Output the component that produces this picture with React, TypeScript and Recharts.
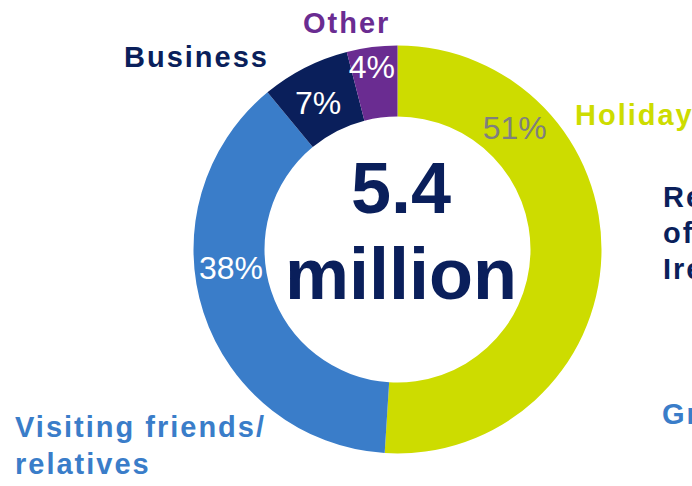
import React from "react";
import { PieChart, Pie, Cell } from "recharts";

const categories = ["Holiday", "Visiting friends/relatives", "Business", "Other"];
const shares = [51, 38, 7, 4];
const percentLabels = ["51%", "38%", "7%", "4%"];
const sliceColors = ["#CDDC00", "#3A7DC9", "#0A1F5B", "#6A2C91"];
const percentLabelColors = ["#7F7F7F", "#FFFFFF", "#FFFFFF", "#FFFFFF"];
const labelAngles = [46.1, 186.2, 118.4, 98];
const labelRadii = [169, 167.5, 167, 184];
const totalValue = "5.4";
const totalUnit = "million";

const data = categories.map((name, i) => ({ name, value: shares[i] }));

const RAD = Math.PI / 180;
const FONT = "'Liberation Sans', Arial, Helvetica, sans-serif";

const renderPercent = (props: any) => {
  const { cx, cy, index } = props;
  const a = labelAngles[index] * RAD;
  const r = labelRadii[index];
  const x = cx + r * Math.cos(a);
  const y = cy - r * Math.sin(a);
  return (
    <text
      x={x}
      y={y}
      textAnchor="middle"
      dominantBaseline="central"
      fill={percentLabelColors[index]}
      fontSize={32}
      fontFamily={FONT}
    >
      {percentLabels[index]}
    </text>
  );
};

const catStyle = { fontFamily: FONT, fontSize: 29, fontWeight: 700, letterSpacing: 2 } as const;

export default function App() {
  return (
    <div style={{ position: "absolute", left: 0, top: 0, width: 692, height: 486, background: "#fff", overflow: "hidden" }}>
      <PieChart width={692} height={486} margin={{ top: 0, right: 0, bottom: 0, left: 0 }}>
        <Pie
          data={data}
          dataKey="value"
          nameKey="name"
          cx={397.5}
          cy={249.5}
          innerRadius={133}
          outerRadius={204}
          startAngle={90}
          endAngle={-270}
          stroke="none"
          isAnimationActive={false}
          label={renderPercent}
          labelLine={false}
        >
          {data.map((d, i) => (
            <Cell key={d.name} fill={sliceColors[i]} />
          ))}
        </Pie>
      </PieChart>
      <svg width={692} height={486} style={{ position: "absolute", left: 0, top: 0, pointerEvents: "none" }}>
        <text x={401} y={213} textAnchor="middle" fill="#0A1F5B" fontFamily={FONT} fontSize={72} fontWeight={700}>
          {totalValue}
        </text>
        <text x={401} y={299} textAnchor="middle" fill="#0A1F5B" fontFamily={FONT} fontSize={72} fontWeight={700}>
          {totalUnit}
        </text>
        <text x={303} y={33} fill="#6A2C91" {...catStyle}>Other</text>
        <text x={124} y={67} fill="#0A1F5B" {...catStyle}>Business</text>
        <text x={575} y={125} fill="#CDDC00" {...catStyle}>Holiday</text>
        <text x={663} y={207} fill="#0A1F5B" {...catStyle}>Republic</text>
        <text x={663} y={243} fill="#0A1F5B" {...catStyle}>of</text>
        <text x={663} y={279} fill="#0A1F5B" {...catStyle}>Ireland</text>
        <text x={662} y={424} fill="#3A7DC9" {...catStyle}>Great Britain</text>
        <text x={15} y={437} fill="#3A7DC9" {...catStyle}>Visiting friends/</text>
        <text x={15} y={474} fill="#3A7DC9" {...catStyle}>relatives</text>
      </svg>
    </div>
  );
}
